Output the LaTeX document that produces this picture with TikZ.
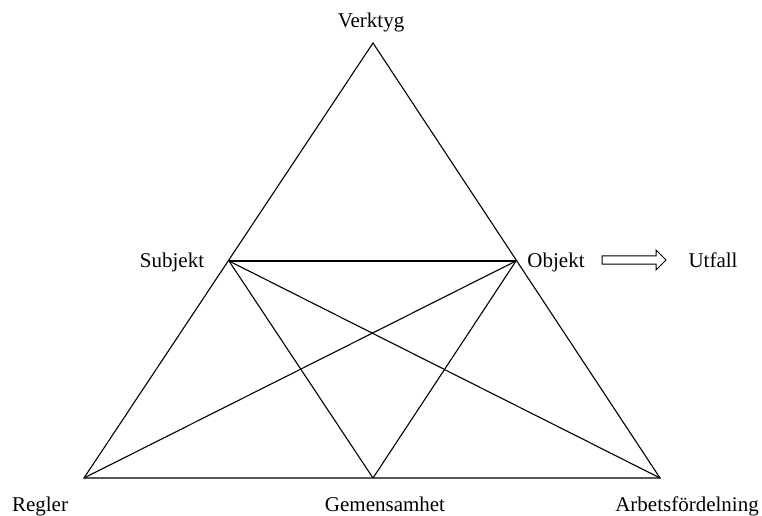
\documentclass[tikz,border=0pt]{standalone}
\usepackage{fontspec}
\setmainfont{Liberation Serif}
\begin{document}
\begin{tikzpicture}[x=1pt,y=1pt,
  edge/.style={draw=black,line width=1.1pt},
  lbl/.style={font=\fontsize{21}{24}\selectfont,inner sep=0pt,anchor=base}]
\useasboundingbox (0,0) rectangle (762,516);
% corners of the activity system
\coordinate (T)  at (373,473);
\coordinate (S)  at (229,255);
\coordinate (O)  at (516,255);
\coordinate (BL) at (84,38);
\coordinate (BM) at (373,38);
\coordinate (BR) at (660,38);
% outer triangle and inner connections
\draw[edge,line join=miter] (T) -- (BL) -- (BR) -- cycle;
\draw[edge] (S) -- (O);
\draw[edge] (S) -- (BM);
\draw[edge] (S) -- (BR);
\draw[edge] (O) -- (BL);
\draw[edge] (O) -- (BM);
% labels
\node[lbl] (verktyg) at (371,488) {Verktyg};
\node[lbl] (subjekt) at (172,248) {Subjekt};
\node[lbl] (objekt) at (556,248) {Objekt};
\node[lbl] (utfall) at (713,248) {Utfall};
\node[lbl] (regler) at (40,4) {Regler};
\node[lbl] (gemensamhet) at (385,4) {Gemensamhet};
\node[lbl] (arbets) at (687,4) {Arbetsfördelning};
% hollow outcome arrow
\coordinate (pil) at (602,256);
\draw[line width=1pt,line join=miter]
  (pil) ++(0,4.2) -- ++(54,0) -- ++(0,5.8) -- ++(10,-10)
  -- ++(-10,-10) -- ++(0,5.8) -- ++(-54,0) -- cycle;
\end{tikzpicture}
\end{document}
